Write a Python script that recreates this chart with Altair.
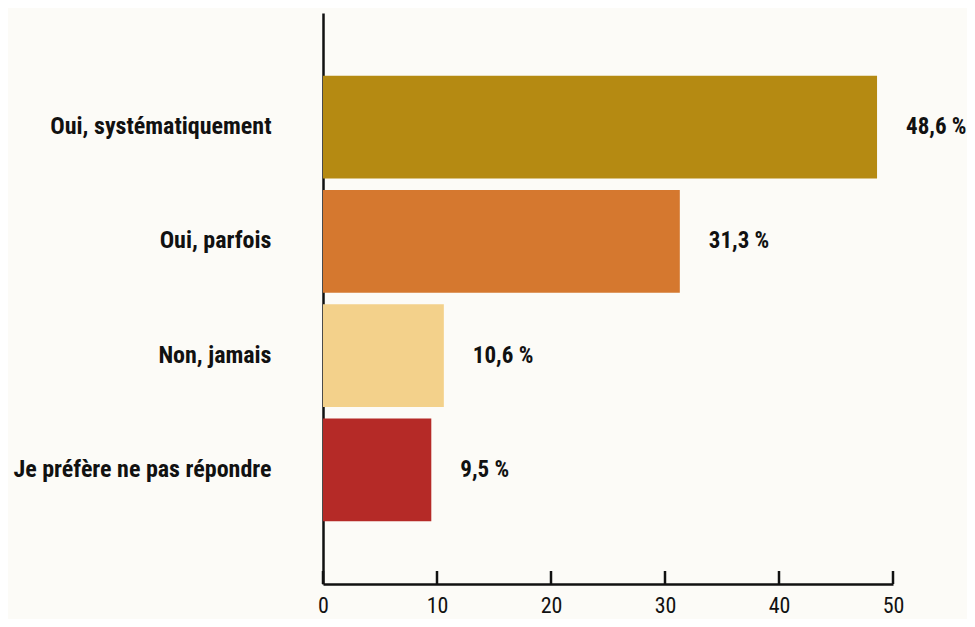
import altair as alt
import pandas as pd

categories = ["Oui, systématiquement", "Oui, parfois", "Non, jamais", "Je préfère ne pas répondre"]
values = [48.6, 31.3, 10.6, 9.5]
labels = ["48,6 %", "31,3 %", "10,6 %", "9,5 %"]
colors = ["#b58a12", "#d5782f", "#f3d18b", "#b52a27"]
tick_values = [0, 10, 20, 30, 40, 50]

FONT = "Roboto Condensed, Liberation Sans Narrow, Roboto, sans-serif"
H = 571

df = pd.DataFrame({"cat": categories, "val": values, "lab": labels})
ticks_df = pd.DataFrame({"t": tick_values})

y_enc = alt.Y("cat:N", sort=categories,
              scale=alt.Scale(paddingInner=0.1, paddingOuter=0.55),
              axis=alt.Axis(title=None, ticks=False, labelPadding=52, labelFont=FONT,
                            labelFontSize=24, labelFontWeight="bold", labelColor="#111",
                            domainColor="#111", domainWidth=2.5, labelLimit=400))
x_scale = alt.Scale(domain=[0, 50], nice=False)

bars = alt.Chart(df).mark_bar().encode(
    x=alt.X("val:Q", scale=x_scale,
            axis=alt.Axis(title=None, values=tick_values, ticks=False, grid=False,
                          labelPadding=11, labelFont=FONT, labelFontSize=22,
                          labelColor="#111", domainColor="#111", domainWidth=2.5,
                          labelFlush=False)),
    y=y_enc,
    color=alt.Color("cat:N", sort=categories,
                    scale=alt.Scale(domain=categories, range=colors), legend=None),
)

text = alt.Chart(df).mark_text(align="left", baseline="middle", dx=29,
                               font=FONT, fontSize=23, fontWeight="bold", color="#111").encode(
    x=alt.X("val:Q", scale=x_scale),
    y=alt.Y("cat:N", sort=categories),
    text="lab:N",
)

tick_marks = alt.Chart(ticks_df).mark_rule(color="#111", strokeWidth=2.5).encode(
    x=alt.X("t:Q", scale=x_scale),
    y=alt.value(H - 13),
    y2=alt.value(H),
)

chart = alt.layer(bars, text, tick_marks).properties(
    width=570, height=H,
    autosize=alt.AutoSizeParams(type="none"),
    padding={"left": 315, "top": 5, "right": 74, "bottom": 35},
    background="#fcfbf7",
).configure_view(stroke=None)

chart.save("out.html", embed_options={"renderer": "svg", "actions": False})
